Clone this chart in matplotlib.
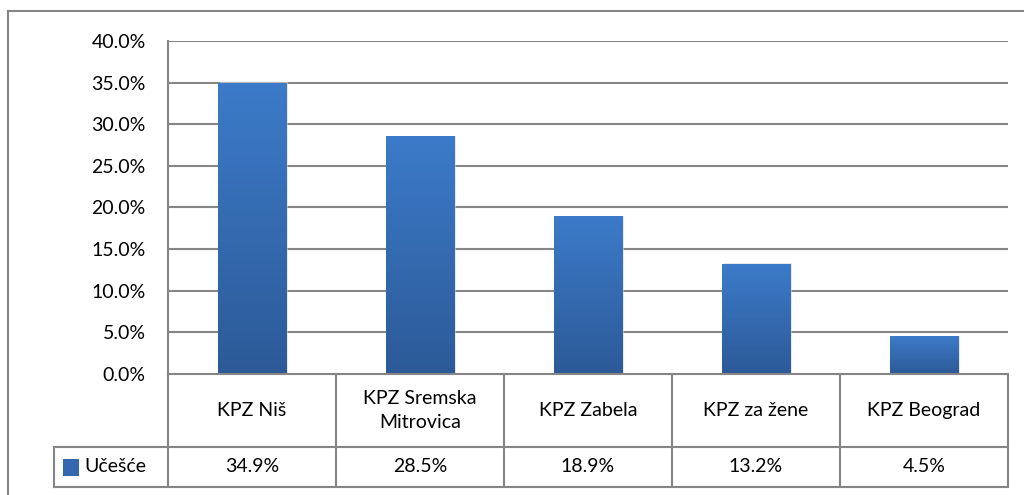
import matplotlib
matplotlib.use("Agg")
import matplotlib.pyplot as plt
import numpy as np
from matplotlib.colors import LinearSegmentedColormap
from matplotlib.lines import Line2D
from matplotlib.patches import Rectangle

categories = ["KPZ Niš", "KPZ Sremska\nMitrovica", "KPZ Zabela", "KPZ za žene", "KPZ Beograd"]
ucesce = [34.9, 28.5, 18.9, 13.2, 4.5]
series_name = "Učešće"
y_ticks = [0, 5, 10, 15, 20, 25, 30, 35, 40]

plt.rcParams["font.family"] = ["Lato", "DejaVu Sans"]
W, H = 1024, 495
grid_col = "#868686"
fs = 14

fig = plt.figure(figsize=(W / 100, H / 100), dpi=100)
# plot area in pixels: left 168, right 1008, top 41, bottom 374
L, R, T, B = 168, 1008, 41, 374
ax = fig.add_axes([L / W, 1 - B / H, (R - L) / W, (B - T) / H])

n = len(categories)
x = np.arange(n)
ax.set_xlim(-0.5, n - 0.5)
ax.set_ylim(0, 40)

for yv in y_ticks[1:]:
    ax.axhline(yv, color=grid_col, lw=1.5, zorder=1)

cmap = LinearSegmentedColormap.from_list("bar", ["#2C5A97", "#3C7BC9"])
grad = np.linspace(0, 1, 256).reshape(-1, 1)
bw = 0.405
for xi, v in zip(x, ucesce):
    ax.add_patch(Rectangle((xi - bw / 2 + 0.012, 0), bw, v + 0.12, color="#d9d9d9",
                           alpha=0.6, lw=0, zorder=2))
    ax.imshow(grad, cmap=cmap, origin="lower", aspect="auto",
              extent=(xi - bw / 2, xi + bw / 2, 0, v), zorder=3)
ax.set_xlim(-0.5, n - 0.5)
ax.set_ylim(0, 40)

ax.set_yticks(y_ticks)
ax.set_yticklabels([f"{t:.1f}%" for t in y_ticks], fontsize=fs)
ax.tick_params(axis="y", length=0, pad=16)
ax.set_xticks([])
for s in ["top", "right", "bottom"]:
    ax.spines[s].set_visible(False)
ax.spines["left"].set_color(grid_col)
ax.spines["left"].set_linewidth(1.5)

# data table below the plot area (pixel coordinates via the figure)
def fx(px):
    return px / W

def fy(py):
    return 1 - py / H

col_w = (R - L) / n
row1, row2 = 447, 487
leg_left = 54
lines = [
    ((L, R), (B, B)),
    ((leg_left, R), (row1, row1)),
    ((leg_left, R), (row2, row2)),
    ((leg_left, leg_left), (row1, row2)),
    ((L, L), (B, row2)),
]
for i in range(1, n + 1):
    xp = L + i * col_w
    lines.append(((xp, xp), (B, row2)))
for (xs, ys) in lines:
    fig.add_artist(Line2D([fx(xs[0]), fx(xs[1])], [fy(ys[0]), fy(ys[1])],
                          color=grid_col, lw=1.5, transform=fig.transFigure))

for i, (cat, v) in enumerate(zip(categories, ucesce)):
    cx = L + (i + 0.5) * col_w
    fig.text(fx(cx), fy((B + row1) / 2), cat, ha="center", va="center",
             fontsize=fs, linespacing=1.5)
    fig.text(fx(cx), fy((row1 + row2) / 2), f"{v:.1f}%", ha="center", va="center",
             fontsize=fs)

fig.add_artist(Rectangle((fx(63), fy(476)), 16 / W, 17 / H, transform=fig.transFigure,
                         color="#3367AE", lw=0))
fig.text(fx(84), fy((row1 + row2) / 2), series_name, ha="left", va="center", fontsize=fs)

# chart outer border
fig.add_artist(Line2D([fx(8), fx(8)], [fy(11), 0], color=grid_col, lw=1.5,
                      transform=fig.transFigure))
fig.add_artist(Line2D([fx(8), 1], [fy(11), fy(11)], color=grid_col, lw=1.5,
                      transform=fig.transFigure))

fig.savefig("out.png", dpi=100)
